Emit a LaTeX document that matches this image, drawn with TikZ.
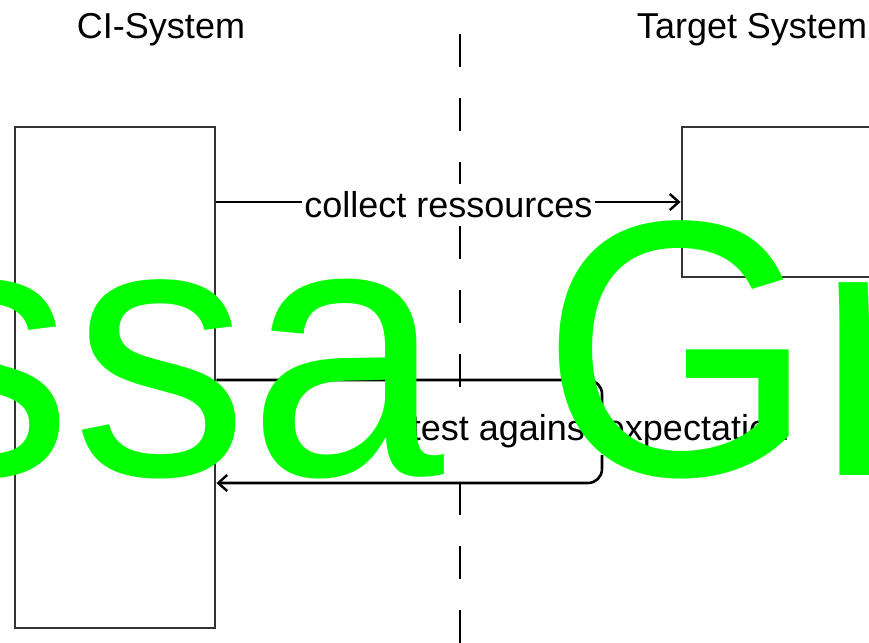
\documentclass[tikz,border=0pt]{standalone}
\usepackage{fontspec}
\setmainfont{Liberation Sans}
\usetikzlibrary{arrows.meta}
\definecolor{boxgray}{RGB}{51,51,51}
\definecolor{wmgreen}{RGB}{0,255,0}
\tikzset{
  lane/.style={draw=boxgray, line width=2.8pt, fill=white, inner sep=0pt},
  arr/.style={draw=black, line width=2.6pt, -{Straight Barb[length=9pt,width=16pt,line width=2.4pt]}},
  lbl/.style={fill=white, inner xsep=2pt, inner ysep=8pt, font=\fontsize{36}{40}\selectfont},
  title/.style={inner sep=0pt, font=\fontsize{36}{40}\selectfont},
  divider/.style={draw=black, line width=2.6pt, dash pattern=on 33pt off 31pt},
  wm/.style={inner sep=0pt, text=wmgreen, font=\fontsize{365}{365}\selectfont}
}
\begin{document}
\begin{tikzpicture}[x=1pt,y=-1pt]
\useasboundingbox (0,0) rectangle (869,642);
\begin{scope}
\clip (0,0) rectangle (869,642);
\fill[white] (0,0) rectangle (869,642);
% lanes
\node[lane, minimum width=200pt, minimum height=501pt] (ci) at (115,377.5) {};
\node[lane, minimum width=200pt, minimum height=150pt] (tgt) at (782,202) {};
% divider
\coordinate (dtop) at (460,34);
\coordinate (dbot) at (460,660);
\draw[divider] (dtop) -- (dbot);
% arrows
\draw[arr] (ci.east |- tgt.west) -- (tgt.west)
  node[lbl, midway, anchor=center, yshift=-3pt] (l1) {collect ressources};
\coordinate (lp) at (602,380);
\coordinate (lb) at (602,483);
\draw[arr, rounded corners=14pt] (ci.east |- lp) -- (lp) -- (lb) -- (ci.east |- lb);
\node[lbl, anchor=base] (l2) at (600,440) {test against expectation};
% titles
\node[title, anchor=base] (t1) at (161,38) {CI-System};
\node[title, anchor=base] (t2) at (752,38) {Target System};
% watermark
\node[wm, anchor=base west] (w) at (-104,475) {\scalebox{0.965}[1]{ssa Gr}};
\end{scope}
\end{tikzpicture}
\end{document}
